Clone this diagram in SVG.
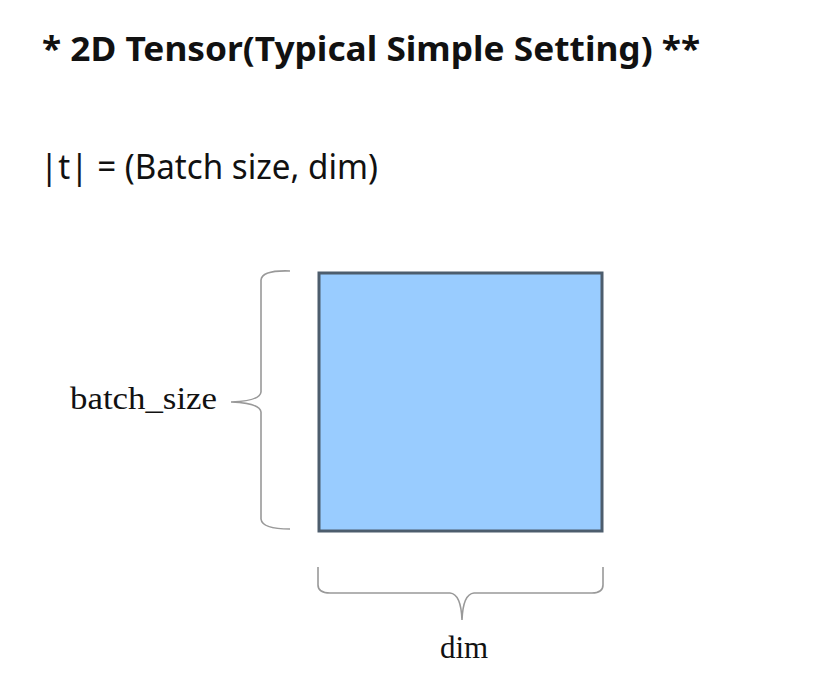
<svg xmlns="http://www.w3.org/2000/svg" width="829" height="685" viewBox="0 0 829 685">
<style>
.t{font-family:"Noto Sans","Liberation Sans",sans-serif;fill:#111}
.lbl{font-family:"Liberation Serif","DejaVu Serif",serif;font-size:31px;fill:#111}
.brace{fill:none;stroke:#999;stroke-width:1.6}
</style>
<rect width="829" height="685" fill="#fff"/>
<text class="t" x="42" y="61" font-size="34" font-weight="bold" textLength="658" lengthAdjust="spacingAndGlyphs">* 2D Tensor(Typical Simple Setting) **</text>
<text class="t" x="40" y="179" font-size="35" textLength="338" lengthAdjust="spacingAndGlyphs">|t| = (Batch size, dim)</text>
<g id="tensor">
<rect x="319" y="273" width="283" height="258" fill="#99ccff" stroke="#4d5d6d" stroke-width="3"/>
</g>
<g id="connectors">
<path class="brace" d="M290,271 Q262,270 261,280 L261,392 Q260,401 231,402 Q260,403 261,412 L261,519 Q262,529 290,529"/>
<path class="brace" d="M318,567 L318,585 Q318,593 330,593 L450,593 Q461,594 462,620 Q463,594 474,593 L592,593 Q603,593 603,585 L603,567"/>
</g>
<g id="label-batch">
<text class="lbl" x="70" y="409" textLength="147" lengthAdjust="spacingAndGlyphs">batch_size</text>
</g>
<g id="label-dim">
<text class="lbl" x="464" y="658" text-anchor="middle">dim</text>
</g>
</svg>
